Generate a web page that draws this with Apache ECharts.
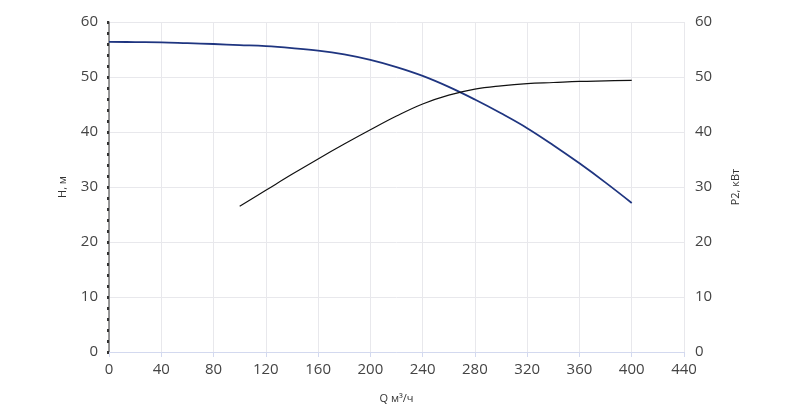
<!DOCTYPE html>
<html>
<head>
<meta charset="utf-8">
<script src="https://cdn.jsdelivr.net/npm/echarts@6/dist/echarts.min.js"></script>
<style>
  html, body { margin:0; padding:0; background:#fff; }
  #chart { width:800px; height:408px; }
</style>
</head>
<body>
<div id="chart"></div>
<script>
// Q, м³/ч -> H, м
const qHead = [0, 20, 40, 60, 80, 100, 120, 140, 160, 180, 200, 220, 240, 260, 280, 300, 320, 340, 360, 380, 400];
const head  = [56.4, 56.35, 56.3, 56.15, 56.0, 55.8, 55.6, 55.25, 54.8, 54.1, 53.1, 51.8, 50.2, 48.2, 45.9, 43.4, 40.7, 37.6, 34.3, 30.8, 27.1];

// Q, м³/ч -> P2, кВт
const qPower = [100, 120, 140, 160, 180, 200, 220, 240, 260, 280, 300, 320, 340, 360, 380, 400];
const power  = [26.5, 29.4, 32.3, 35.1, 37.8, 40.4, 42.9, 45.1, 46.7, 47.8, 48.4, 48.8, 49.0, 49.2, 49.3, 49.4];

const xTicks = { min: 0, max: 440, interval: 40 };
const yTicks = { min: 0, max: 60, interval: 10 };

const FONT = "Open Sans";
const pairs = (xs, ys) => xs.map((x, i) => [x, ys[i]]);

const chart = echarts.init(document.getElementById("chart"));

chart.setOption({
  animation: false,
  textStyle: { fontFamily: FONT },
  grid: { left: 109, right: 116, top: 22, bottom: 56, outerBoundsMode: "none", containLabel: false },
  xAxis: {
    type: "value",
    min: xTicks.min, max: xTicks.max, interval: xTicks.interval,
    name: "Q м³/ч",
    nameLocation: "middle",
    nameGap: 41,
    nameTextStyle: { color: "#333", fontSize: 11, fontFamily: FONT },
    axisLine: { show: true, lineStyle: { color: "#d3d9ef", width: 1 } },
    axisTick: { show: true, length: 5, lineStyle: { color: "#d3d9ef" } },
    axisLabel: { color: "#444", fontSize: 15, margin: 10, fontFamily: FONT },
    splitLine: { show: true, lineStyle: { color: "#e8e8ec", width: 1 } }
  },
  yAxis: [
    {
      type: "value",
      position: "left",
      min: yTicks.min, max: yTicks.max, interval: yTicks.interval,
      name: "H, м",
      nameLocation: "middle",
      nameGap: 41,
      nameRotate: 90,
      nameTextStyle: { color: "#333", fontSize: 11, fontFamily: FONT },
      axisLine: { show: true, lineStyle: { color: "#777", width: 1.5 } },
      axisTick: { show: true, length: 2, lineStyle: { color: "#333", width: 3 } },
      minorTick: { show: true, splitNumber: 5, length: 2, lineStyle: { color: "#333", width: 3 } },
      axisLabel: { color: "#444", fontSize: 15, margin: 11, fontFamily: FONT },
      splitLine: { show: true, lineStyle: { color: "#e8e8ec", width: 1 } }
    },
    {
      type: "value",
      position: "right",
      min: yTicks.min, max: yTicks.max, interval: yTicks.interval,
      name: "P2, кВт",
      nameLocation: "middle",
      nameGap: 46,
      nameRotate: 90,
      nameTextStyle: { color: "#333", fontSize: 11, fontFamily: FONT },
      axisLine: { show: false },
      axisTick: { show: false },
      axisLabel: { color: "#444", fontSize: 15, margin: 11, fontFamily: FONT },
      splitLine: { show: false }
    }
  ],
  series: [
    {
      name: "H",
      type: "line",
      yAxisIndex: 0,
      smooth: 0.4,
      showSymbol: false,
      lineStyle: { color: "#1f3580", width: 1.8 },
      data: pairs(qHead, head)
    },
    {
      name: "P2",
      type: "line",
      yAxisIndex: 1,
      smooth: 0.4,
      showSymbol: false,
      lineStyle: { color: "#111", width: 1.2 },
      data: pairs(qPower, power)
    }
  ]
});
</script>
</body>
</html>
